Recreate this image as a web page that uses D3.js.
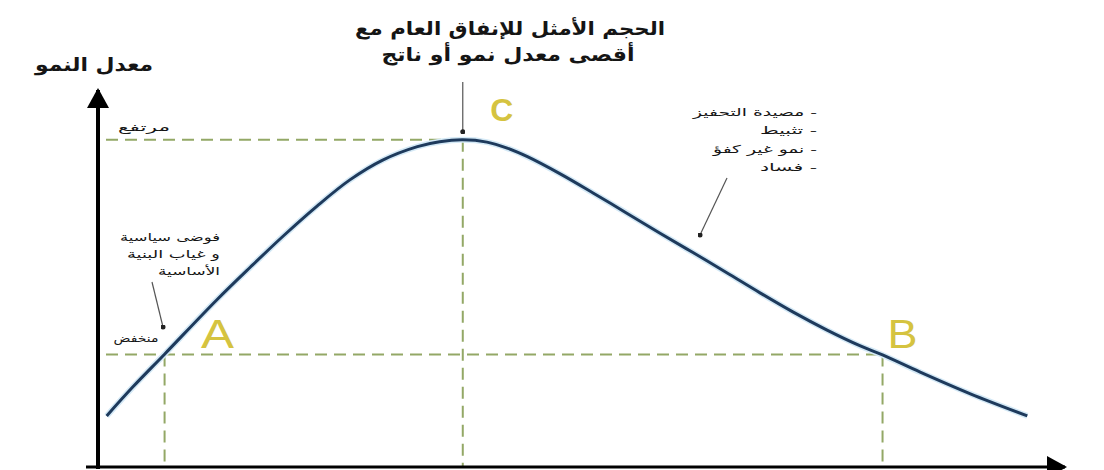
<!DOCTYPE html>
<html>
<head>
<meta charset="utf-8">
<script src="https://cdn.jsdelivr.net/npm/d3@7"></script>
<style>
  body { margin: 0; background: #fff; }
  svg { display: block; }
  text { font-family: "DejaVu Sans", sans-serif; }
</style>
</head>
<body>
<div id="myChart"></div>
<script>
// spending size (0-100) vs growth rate (0-100)
var spending = [0.9, 3.6, 6.9, 12.3, 15.8, 19.2, 22.7, 26.1, 29.5, 33.1, 35.4, 37.8,
  40.3, 42.4, 44.5, 47.9, 51.3, 54.8, 58.2, 61.7, 65.2, 68.6, 72.0, 75.5, 79.0, 81.3, 85.2, 90.4, 96.3];
var growth = [13.4, 21.1, 29.9, 44.4, 53.2, 61.5, 69.5, 76.5, 81.8, 85.4, 86.7, 87.2,
  86.6, 85.0, 82.7, 78.1, 73.0, 67.6, 62.3, 57.0, 51.6, 46.3, 41.2, 36.4, 32.1, 29.7, 25.1, 19.3, 13.4];

// marked points A, C, B
var pointNames = ['A', 'C', 'B'];
var pointX = [6.9, 37.8, 81.3];
var pointY = [29.8, 87.2, 29.8];

var levelNames = ['منخفض', 'مرتفع'];
var levelY = [29.8, 87.2];

var titleLines = ['الحجم الأمثل للإنفاق العام مع', 'أقصى معدل نمو أو ناتج'];
var yTitle = 'معدل النمو';
var leftNote = ['فوضى سياسية', 'و غياب البنية', 'الأساسية'];
var rightNote = ['- مصيدة التحفيز', '- تثبيط', '- نمو غير كفؤ', '- فساد'];

var data = spending.map(function(s, i) { return { x: s, y: growth[i] }; });

var x = d3.scaleLinear().domain([0, 100]).range([98, 1063]);
var y = d3.scaleLinear().domain([0, 100]).range([466, 92]);

var svg = d3.select("#myChart").append("svg")
  .attr("width", 1104)
  .attr("height", 470);

var defs = svg.append("defs");
defs.append("marker")
  .attr("id", "arrowBig")
  .attr("markerUnits", "userSpaceOnUse")
  .attr("viewBox", "0 0 20 22")
  .attr("refX", 18).attr("refY", 11)
  .attr("markerWidth", 20).attr("markerHeight", 22)
  .attr("orient", "auto")
  .append("path")
  .attr("d", "M0,0L20,11L0,22Z")
  .attr("fill", "#000");
defs.append("marker")
  .attr("id", "dot")
  .attr("markerUnits", "userSpaceOnUse")
  .attr("viewBox", "0 0 6 6")
  .attr("refX", 3).attr("refY", 3)
  .attr("markerWidth", 5).attr("markerHeight", 5)
  .append("circle")
  .attr("cx", 3).attr("cy", 3).attr("r", 3)
  .attr("fill", "#222");

// dashed guide lines
var guide = svg.append("g")
  .attr("stroke", "#93a866")
  .attr("stroke-width", 2)
  .attr("stroke-dasharray", "12,7")
  .attr("fill", "none");

levelY.forEach(function(v, i) {
  var xEnd = i == 0 ? x(pointX[2]) : x(pointX[1]);
  guide.append("line")
    .attr("x1", x(0) + 8).attr("x2", xEnd)
    .attr("y1", y(v)).attr("y2", y(v));
});
pointX.forEach(function(v, i) {
  guide.append("line")
    .attr("x1", x(v)).attr("x2", x(v))
    .attr("y1", y(pointY[i])).attr("y2", y(0));
});

// the curve
var line = d3.line()
  .x(function(d) { return x(d.x); })
  .y(function(d) { return y(d.y); })
  .curve(d3.curveCatmullRom.alpha(0.5));

svg.append("path")
  .datum(data)
  .attr("d", line)
  .attr("fill", "none")
  .attr("stroke", "#d4e9f6")
  .attr("stroke-width", 6);
svg.append("path")
  .datum(data)
  .attr("d", line)
  .attr("fill", "none")
  .attr("stroke", "#1e3a5c")
  .attr("stroke-width", 3);

// axes
var yAxis = svg.append("g")
  .attr("transform", "translate(" + x(0) + ",0)")
  .call(d3.axisLeft(y).tickValues([]).tickSizeOuter(0));
yAxis.select(".domain")
  .attr("d", "M0," + (y(0) + 3) + "V" + (y(100) - 2))
  .attr("stroke", "#000")
  .attr("stroke-width", 4)
  .attr("marker-end", "url(#arrowBig)");

var xAxis = svg.append("g")
  .attr("transform", "translate(0," + (y(0) + 1) + ")")
  .call(d3.axisBottom(x).tickValues([]).tickSizeOuter(0));
xAxis.select(".domain")
  .attr("d", "M" + (x(0) - 12) + ",0H" + (x(100) + 2))
  .attr("stroke", "#000")
  .attr("stroke-width", 3)
  .attr("marker-end", "url(#arrowBig)");

// helper for the stretched arabic labels
function label(sel, cx, cy, w, size, bold) {
  return sel.append("text")
    .attr("x", cx).attr("y", cy)
    .attr("text-anchor", "middle")
    .attr("direction", "rtl")
    .attr("font-size", size)
    .attr("font-weight", bold ? "bold" : "normal")
    .attr("textLength", w)
    .attr("lengthAdjust", "spacingAndGlyphs")
    .attr("fill", "#151515");
}

// level labels next to the y axis
label(svg, 136, y(levelY[0]) - 13, 45, 11, false).text(levelNames[0]);
label(svg, 144, y(levelY[1]) - 9, 52, 11, false).text(levelNames[1]);

// point letters
svg.selectAll(".pt")
  .data(pointNames)
  .enter()
  .append("text")
  .attr("class", "pt")
  .attr("x", function(d, i) { return x(pointX[i]) + [53, 39, 20][i]; })
  .attr("y", function(d, i) { return y(pointY[i]) - [7, 19, 7][i]; })
  .attr("text-anchor", "middle")
  .attr("font-size", function(d, i) { return i == 1 ? 31 : 40; })
  .attr("font-weight", function(d, i) { return i == 1 ? "bold" : "normal"; })
  .attr("textLength", function(d, i) { return [33, 23, 30][i]; })
  .attr("lengthAdjust", "spacingAndGlyphs")
  .attr("fill", "#d5c340")
  .style("font-family", "Liberation Sans, sans-serif")
  .text(function(d) { return d; });

// titles
label(svg, 510, 35, 310, 19, true).text(titleLines[0]);
label(svg, 508, 61, 253, 19, true).text(titleLines[1]);
label(svg, 94, 71, 118, 19, true).text(yTitle);

// pointer from title to the peak
svg.append("line")
  .attr("x1", x(pointX[1])).attr("x2", x(pointX[1]))
  .attr("y1", 82).attr("y2", y(pointY[1]) - 8)
  .attr("stroke", "#555")
  .attr("stroke-width", 1.2)
  .attr("marker-end", "url(#dot)");

// notes
var leftCx = [170, 173.5, 189], leftW = [100, 93, 62];
leftNote.forEach(function(t, i) {
  label(svg, leftCx[i], 241 + i * 17, leftW[i], 11, false).text(t);
});
var rightCx = [755, 788.5, 765, 788.5], rightW = [124, 57, 104, 57];
rightNote.forEach(function(t, i) {
  label(svg, rightCx[i], 116 + i * 18.3, rightW[i], 11, false).text(t);
});

svg.append("line")
  .attr("x1", 152).attr("y1", 282)
  .attr("x2", 163).attr("y2", 327)
  .attr("stroke", "#555").attr("stroke-width", 1.2)
  .attr("marker-end", "url(#dot)");
svg.append("line")
  .attr("x1", 727).attr("y1", 178)
  .attr("x2", 700).attr("y2", 235)
  .attr("stroke", "#555").attr("stroke-width", 1.2)
  .attr("marker-end", "url(#dot)");
</script>
</body>
</html>
